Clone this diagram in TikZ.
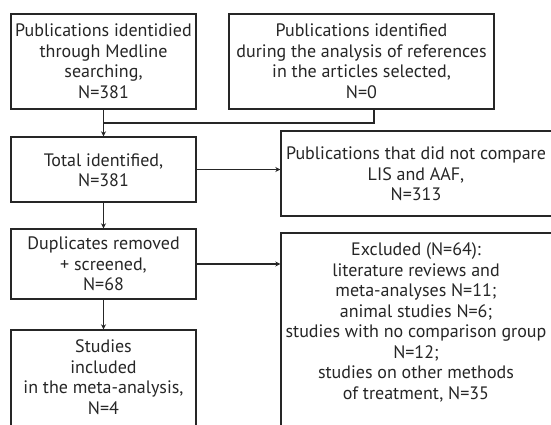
\documentclass[tikz,border=0pt]{standalone}
\usepackage{fontspec}
\setmainfont{PT Sans}
\usetikzlibrary{arrows.meta,calc}
\begin{document}
\begin{tikzpicture}[x=1pt,y=-1pt,
  fbox/.style={draw=black!85,line width=1.4pt,inner sep=0pt,fill=none},
  txt/.style={align=center,font=\fontsize{18}{20.5}\selectfont,text=black!85,inner sep=0pt},
  link/.style={draw=black!85,line width=1.4pt},
  arr/.style={link,-{Stealth[length=5pt,width=5pt]}}]
\clip (0,0) rectangle (551,425);
\fill[white] (0,0) rectangle (551,425);
% boxes
\node[fbox,minimum width=185pt,minimum height=95pt] (med) at (103.5,61.5) {};
\node[fbox,minimum width=265pt,minimum height=95pt] (ref) at (361.5,61.5) {};
\node[fbox,minimum width=185pt,minimum height=65pt] (total) at (103.5,169.5) {};
\node[fbox,minimum width=289pt,minimum height=85pt] (notcmp) at (425.5,173.5) {};
\node[fbox,minimum width=185pt,minimum height=70pt] (dup) at (103.5,264) {};
\node[fbox,minimum width=289pt,minimum height=227pt] (excl) at (425.5,346.5) {};
\node[fbox,minimum width=185pt,minimum height=130pt] (stud) at (103.5,395) {};
% texts
\node[txt] (tmed) at (103.5,61) {Publications identidied\\through Medline\\searching,\\N=381};
\node[txt] (tref) at (361.5,61) {Publications identified\\during the analysis of references\\in the articles selected,\\N=0};
\node[txt] (ttotal) at (103.5,170) {Total identified,\\N=381};
\node[txt] (tnot) at (416,174) {Publications that did not compare\\LIS and AAF,\\N=313};
\node[txt] (tdup) at (103.5,264) {Duplicates removed\\+ screened,\\N=68};
\node[txt] (texcl) at (416,322.5) {Excluded (N=64):\\literature reviews and\\meta-analyses N=11;\\animal studies N=6;\\studies with no comparison group\\N=12;\\studies on other methods\\of treatment, N=35};
\node[txt] (tstud) at (103.5,377) {Studies\\included\\in the meta-analysis,\\N=4};
% connectors
\coordinate (jr) at (374,123);
\coordinate (jl) at (103.5,123);
\draw[link] (ref.south -| jr) -- (jr) -- (jl);
\draw[arr] (med.south) -- (total.north);
\draw[arr] (total.east) -- (total.east -| notcmp.west);
\draw[arr] (total.south) -- (dup.north);
\draw[arr] (dup.east) -- (dup.east -| excl.west);
\draw[arr] (dup.south) -- (stud.north);
\end{tikzpicture}
\end{document}
